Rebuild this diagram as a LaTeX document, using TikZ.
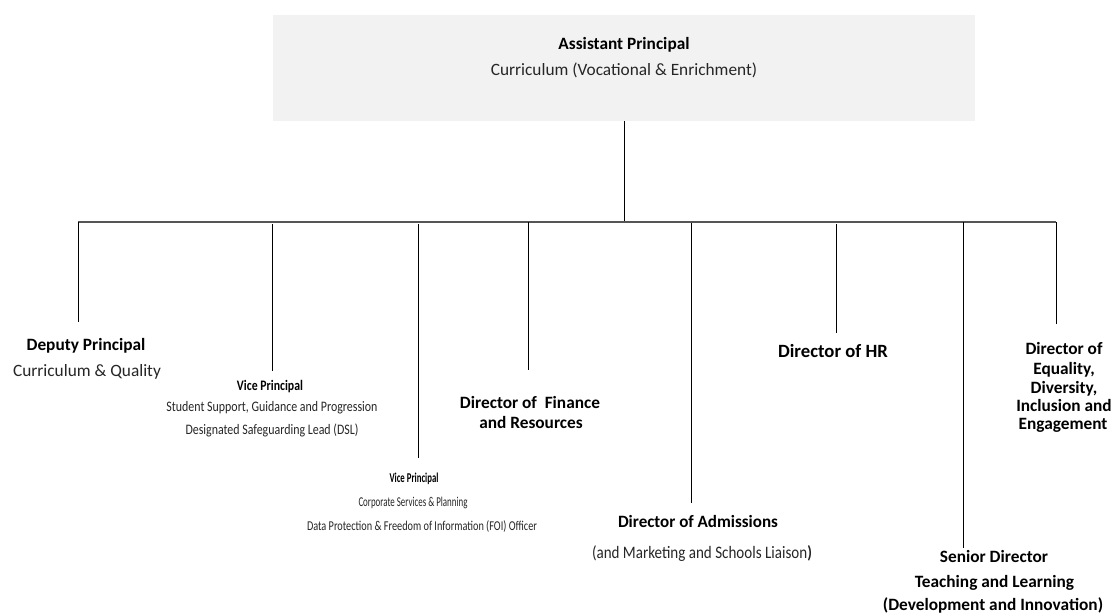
\documentclass[tikz,border=0pt]{standalone}
\usepackage{fontspec}
\usepackage{graphicx}
\setmainfont{Carlito}
\newcommand\fsz[1]{\fontsize{#1}{#1}\selectfont}
\newcommand\fitw[2]{\resizebox{#1pt}{\height}{#2}}
\definecolor{boxgray}{HTML}{F2F2F2}
\definecolor{txtreg}{HTML}{262626}
\definecolor{busgray}{HTML}{555555}
\begin{document}
\begin{tikzpicture}[x=1pt,y=-1pt,
  lbl/.style={anchor=base, inner sep=0pt, outer sep=0pt},
  bld/.style={lbl, font=\fsz{17.3}\bfseries, text=black},
  reg/.style={lbl, font=\fsz{17.3}, text=txtreg},
  smb/.style={lbl, font=\fsz{14.5}\bfseries, text=black},
  smr/.style={lbl, font=\fsz{14.5}, text=txtreg},
  conn/.style={draw=black, line width=0.9pt},
  busline/.style={draw=busgray, line width=1.3pt},
  topbox/.style={fill=boxgray, draw=none, minimum width=702pt, minimum height=106pt, inner sep=0pt}]
\useasboundingbox (0,0) rectangle (1111,615);
\fill[white] (0,0) rectangle (1111,615);

% top box
\node[topbox] (ap) at (624,68) {};
\node[bld] (ap1) at (624,50) {Assistant Principal};
\node[reg] (ap2) at (624,76) {Curriculum (Vocational \& Enrichment)};

% bus junctions
\coordinate (bc) at (624,222);
\coordinate (bl) at (78,222);
\coordinate (br) at (1056,222);

% Deputy Principal
\node[bld] (dp1) at (86,350) {Deputy Principal};
\node[reg] (dp2) at (87,376) {Curriculum \& Quality};
% Vice Principal 1
\node[smb] (va1) at (270,390) {\fitw{66}{Vice Principal}};
\node[smr] (va2) at (272,411) {\fitw{211}{Student Support, Guidance and Progression}};
\node[smr] (va3) at (272,434) {\fitw{173}{Designated Safeguarding Lead (DSL)}};
% Vice Principal 2
\node[smb, font=\fsz{13.5}\bfseries] (vb1) at (414,482) {\fitw{49}{Vice Principal}};
\node[smr, font=\fsz{13.5}] (vb2) at (413,506.5) {\fitw{109}{Corporate Services \& Planning}};
\node[smr, font=\fsz{13.5}] (vb3) at (422,530.5) {\fitw{230}{Data Protection \& Freedom of Information (FOI) Officer}};
% Finance
\node[bld] (df1) at (530,408.7) {Director of\ \ Finance};
\node[bld] (df2) at (531,428.7) {and Resources};
% Admissions
\node[bld, font=\fsz{17.3}\bfseries] (da1) at (698,527.5) {\fitw{160}{Director of Admissions}};
\node[reg, font=\fsz{17.5}] (da2) at (702,558.6) {\fitw{220}{(and Marketing and Schools Liaison\textbf{)}}};
% HR
\node[bld, font=\fsz{18.7}\bfseries] (hr) at (833,357) {Director of HR};
% Senior Director
\node[bld] (sd1) at (994,562) {Senior Director};
\node[bld] (sd2) at (994.5,587) {Teaching and Learning};
\node[bld] (sd3) at (993,610) {(Development and Innovation)};
% Equality
\node[bld] (eq1) at (1064,354) {Director of};
\node[bld] (eq2) at (1064,374) {Equality,};
\node[bld] (eq3) at (1064,393) {Diversity,};
\node[bld] (eq4) at (1064,411) {Inclusion and};
\node[bld] (eq5) at (1063,429) {Engagement};

% connector ends
\coordinate (t1) at (78,222);   \coordinate (e1) at (78,322);
\coordinate (t2) at (272,224);  \coordinate (e2) at (272,371);
\coordinate (t3) at (418,224);  \coordinate (e3) at (418,458);
\coordinate (t4) at (528,222);  \coordinate (e4) at (528,370);
\coordinate (t5) at (691,223);  \coordinate (e5) at (691,503);
\coordinate (t6) at (836,224);  \coordinate (e6) at (836,333);
\coordinate (t7) at (963,222);  \coordinate (e7) at (963,548);
\coordinate (t8) at (1056,222); \coordinate (e8) at (1056,324);

\draw[conn] (ap.south) -- (bc);
\draw[busline] (bl) -- (br);
\foreach \i in {1,...,8}{\draw[conn] (t\i) -- (e\i);}
\end{tikzpicture}
\end{document}
